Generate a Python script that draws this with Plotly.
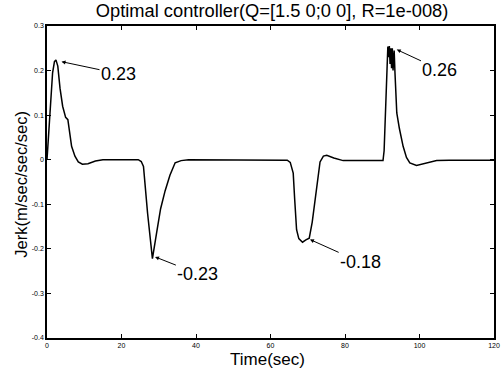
import plotly.graph_objects as go

# ---- data ----
time_s = [0, 0.5, 1.0, 1.5, 2.0, 2.4, 2.9, 3.5, 4.2, 5.0, 5.6, 6.0, 6.6, 7.5, 8.4, 9.5, 11, 13, 15, 20,
          24.5, 25.3, 25.9, 27.0, 28.3, 29.5, 30.5, 31.7, 33.0, 34.4, 36, 38, 45, 55,
          64.5, 65.3, 66.1, 66.5, 67.0, 67.6, 68.6, 69.5, 70.4, 71.2, 72.0, 72.6, 73.3, 74.2, 75.1, 77, 79.5, 82,
          90.2, 90.5, 91.0, 91.5, 91.7, 91.9, 92.1, 92.3, 92.5, 92.7, 92.9, 93.2, 93.4, 93.9, 94.6, 95.6, 96.5,
          97.4, 99.2, 101.9, 104.6, 108, 120]
jerk = [0.0, 0.07, 0.14, 0.195, 0.22, 0.224, 0.21, 0.16, 0.12, 0.095, 0.09, 0.07, 0.03, 0.008, -0.005, -0.01, -0.009, -0.003, 0.0, 0.0,
        0.0, -0.004, -0.015, -0.12, -0.222, -0.16, -0.11, -0.07, -0.035, -0.007, -0.002, 0.0, 0.0, 0.0,
        -0.001, -0.006, -0.03, -0.09, -0.157, -0.177, -0.185, -0.18, -0.176, -0.14, -0.09, -0.05, -0.005, 0.008, 0.01, 0.004, -0.002, -0.002,
        -0.002, 0.02, 0.15, 0.254, 0.23, 0.255, 0.215, 0.25, 0.205, 0.25, 0.2, 0.245, 0.198, 0.105, 0.07, 0.03, 0.005,
        -0.007, -0.013, -0.007, -0.002, -0.001, -0.001]

x_ticks = [0, 20, 40, 60, 80, 100, 120]
x_ticklabels = ["0", "20", "40", "60", "80", "100", "120"]
y_ticks = [0.3, 0.2, 0.1, 0, -0.1, -0.2, -0.3, -0.4]
y_ticklabels = ["0.3", "0.2", "0.1", "0", "-0.1", "-0.2", "-0.3", "-0.4"]

# annotation labels: text, arrow head (t, y), text position (t, y)
ann_text = ["0.23", "-0.23", "-0.18", "0.26"]
ann_head_t = [3.9, 29.0, 70.6, 93.9]
ann_head_y = [0.220, -0.218, -0.179, 0.247]
ann_text_t = [19.2, 40.5, 84.2, 105.5]
ann_text_y = [0.193, -0.256, -0.230, 0.202]

title_text = "Optimal controller(Q=[1.5 0;0 0], R=1e-008)"
x_title = "Time(sec)"
y_title = "Jerk(m/sec/sec/sec)"

FONT = "Liberation Sans, Arial, sans-serif"

fig = go.Figure()
fig.add_trace(go.Scatter(x=time_s, y=jerk, mode="lines",
                         line=dict(color="black", width=1.5), showlegend=False))

for txt, hx, hy, tx, ty in zip(ann_text, ann_head_t, ann_head_y, ann_text_t, ann_text_y):
    fig.add_annotation(x=hx, y=hy, ax=tx, ay=ty, xref="x", yref="y", axref="x", ayref="y",
                       text=txt, showarrow=True, arrowhead=2, arrowsize=0.8, arrowwidth=1,
                       arrowcolor="black", font=dict(family=FONT, size=18, color="black"))

# axis titles as paper annotations for exact placement
fig.add_annotation(text=x_title, xref="paper", yref="paper", x=0.494, y=-0.033,
                   xanchor="center", yanchor="top", showarrow=False,
                   font=dict(family=FONT, size=17, color="black"))
fig.add_annotation(text=y_title, xref="paper", yref="paper", x=-0.034, y=0.494,
                   xanchor="right", yanchor="middle", textangle=-90, showarrow=False,
                   font=dict(family=FONT, size=16.5, color="black"))

axis_common = dict(showline=True, linecolor="black", linewidth=1.5, mirror="ticks",
                   ticks="inside", ticklen=4, tickcolor="black", tickwidth=1,
                   showgrid=False, zeroline=False, automargin=False,
                   tickfont=dict(family=FONT, size=7, color="black"))

fig.update_xaxes(range=[0, 120], tickvals=x_ticks, ticktext=x_ticklabels, **axis_common)
fig.update_yaxes(range=[-0.4, 0.3], tickvals=y_ticks, ticktext=y_ticklabels, **axis_common)

fig.update_layout(
    template="none",
    width=502, height=372,
    margin=dict(l=47, r=8, t=26, b=34, pad=0),
    paper_bgcolor="white", plot_bgcolor="white",
    title=dict(text=title_text,
               font=dict(family=FONT, size=18.3, color="black"),
               x=0.542, xanchor="center", y=0.99, yanchor="top"),
)

fig.write_html("out.html")
